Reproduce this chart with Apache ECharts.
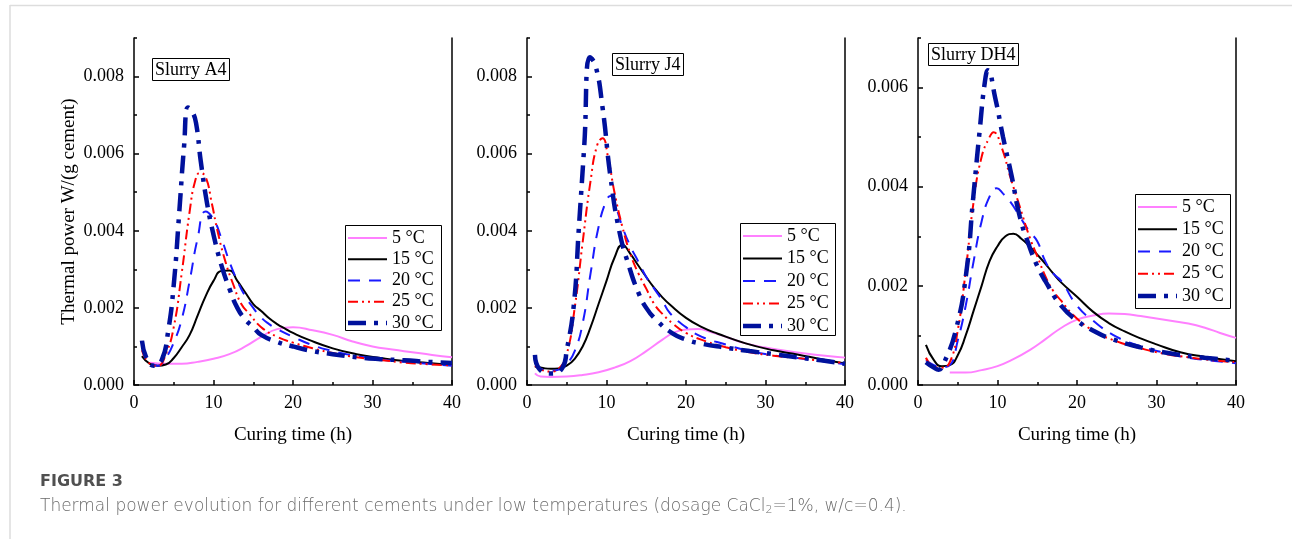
<!DOCTYPE html>
<html>
<head>
<meta charset="utf-8">
<script src="https://cdn.jsdelivr.net/npm/echarts@6/dist/echarts.min.js"></script>
<style>
  html, body { margin: 0; padding: 0; background: #fff; }
  #chart { width: 1292px; height: 539px; }
</style>
</head>
<body>
<div id="chart"></div>
<script>
// Curing temperatures (legend entries) and panel labels
const temps = ['5 °C', '15 °C', '20 °C', '25 °C', '30 °C'];
const panelNames = ['Slurry A4', 'Slurry J4', 'Slurry DH4'];
const yMaxes = [0.009, 0.009, 0.007];
const xTickValues = [0, 10, 20, 30, 40];

// Thermal power W/(g cement) vs curing time (h) — Slurry A4
const a4_5 = [[2,0.00058],[4,0.00055],[6,0.00055],[8,0.0006],[10,0.00068],[12,0.0008],[14,0.001],[16,0.00125],[18,0.00145],[20,0.0015],[22.5,0.00142],[25,0.0013],[27.5,0.00113],[30,0.001],[32.5,0.00092],[35,0.00085],[37.5,0.00078],[40,0.00072]];
const a4_15 = [[1,0.00075],[2,0.00055],[3,0.0005],[4,0.00053],[5,0.0007],[6,0.00098],[7,0.0013],[8,0.0018],[9,0.0023],[10,0.0027],[11,0.00296],[12,0.00297],[13,0.0027],[14,0.0024],[15,0.0021],[16,0.00192],[17,0.00173],[18,0.00158],[19,0.00146],[20,0.00135],[22,0.00117],[25,0.00095],[28,0.0008],[31,0.0007],[34,0.00062],[37,0.00057],[40,0.00052]];
const a4_20 = [[1,0.001],[2,0.0006],[3,0.0005],[4,0.0007],[5,0.0011],[6,0.0017],[7,0.0027],[8,0.0038],[9,0.0045],[10,0.0043],[11,0.0038],[12,0.0032],[13,0.0027],[14,0.0023],[15,0.002],[16,0.00175],[17,0.00158],[18,0.00145],[20,0.00125],[22.5,0.00103],[25,0.00088],[28,0.00075],[31,0.00066],[34,0.0006],[37,0.00055],[40,0.0005]];
const a4_25 = [[1,0.0009],[2,0.00055],[3,0.0005],[4,0.0008],[5,0.0015],[6,0.0029],[7,0.0045],[7.7,0.0053],[8.3,0.0055],[9,0.0054],[9.8,0.0047],[10.5,0.004],[11.5,0.0032],[12.5,0.0026],[13.5,0.0021],[14.5,0.00185],[16,0.0015],[18,0.00125],[20,0.0011],[22.5,0.00095],[25,0.00083],[28,0.00072],[31,0.00065],[34,0.00058],[37,0.00054],[40,0.00051]];
const a4_30 = [[1,0.00115],[1.6,0.00068],[2.5,0.0005],[3.5,0.00065],[4.3,0.0014],[5,0.0026],[5.7,0.0045],[6.3,0.0062],[6.8,0.0072],[7.3,0.0071],[7.8,0.0068],[8.4,0.0058],[9.2,0.0047],[10,0.0039],[11,0.0031],[12,0.0025],[13,0.002],[14,0.0017],[15,0.0015],[16,0.0013],[18,0.00112],[20,0.001],[22.5,0.00088],[25,0.0008],[28,0.00072],[31,0.00067],[34,0.00064],[37,0.0006],[40,0.00057]];

// Slurry J4
const j4_5 = [[1,0.0003],[1.7,0.00022],[3,0.00021],[5,0.00022],[7,0.00026],[9,0.00033],[11,0.00045],[13,0.00062],[15,0.00088],[17,0.00117],[18.5,0.00136],[20,0.00144],[21.5,0.00145],[23,0.00138],[25,0.00125],[27.5,0.00108],[30,0.00097],[32.5,0.00089],[35,0.00082],[37.5,0.00076],[40,0.00071]];
const j4_15 = [[1,0.00048],[2,0.00044],[3,0.00042],[4,0.00043],[5,0.0005],[6,0.00068],[7,0.001],[8,0.0015],[9,0.0021],[10,0.0027],[11,0.0033],[12,0.00364],[13,0.0034],[14,0.0031],[15,0.0028],[16,0.00252],[17,0.00228],[18,0.00208],[20,0.00174],[22,0.0015],[24,0.00133],[27.5,0.00108],[31,0.0009],[34,0.00079],[37,0.00067],[40,0.00056]];
const j4_20 = [[1,0.0006],[2,0.0004],[3,0.00037],[4,0.0004],[5,0.00055],[6,0.00088],[7,0.0016],[8,0.0029],[9,0.0041],[10,0.0048],[10.5,0.0049],[11.2,0.0046],[12,0.0041],[13,0.0036],[14,0.0032],[15,0.0028],[16,0.0025],[17,0.0022],[18,0.00186],[20,0.0015],[22,0.00125],[25,0.00105],[28,0.00088],[31,0.00077],[34,0.0007],[37,0.00062],[40,0.00054]];
const j4_25 = [[1,0.0005],[2,0.00038],[3,0.00035],[4,0.00042],[5,0.0008],[6,0.002],[7,0.0037],[8,0.0053],[8.8,0.0062],[9.5,0.0064],[10.2,0.0059],[11,0.005],[12,0.0041],[13,0.0034],[14,0.0029],[15,0.0025],[16,0.0021],[17,0.00185],[18.3,0.0016],[20,0.00135],[22,0.00117],[25,0.00098],[28,0.00085],[31,0.00076],[34,0.0007],[37,0.00063],[40,0.00057]];
const j4_30 = [[1,0.00078],[1.6,0.0004],[3,0.0003],[4.4,0.00043],[5,0.0009],[5.9,0.0021],[6.5,0.004],[7.2,0.0062],[7.9,0.0085],[8.6,0.0083],[9.5,0.0072],[10.5,0.0054],[11.6,0.004],[12.8,0.0031],[14,0.0024],[15,0.002],[16.2,0.0017],[18.3,0.00134],[20,0.00118],[22,0.00107],[25,0.00097],[28,0.00088],[31,0.0008],[34,0.00072],[37,0.00064],[40,0.00055]];

// Slurry DH4
const dh4_5 = [[4,0.00025],[6,0.00025],[8,0.0003],[10,0.00038],[12,0.00052],[14,0.0007],[16,0.00092],[18,0.00115],[20,0.00132],[22,0.0014],[24,0.00144],[26,0.00143],[28,0.00139],[30,0.00134],[32,0.00129],[34,0.00124],[36,0.00116],[38,0.00105],[40,0.00095]];
const dh4_15 = [[1,0.00081],[2,0.0005],[3,0.00038],[4,0.0004],[5,0.0006],[6,0.001],[7,0.0015],[8,0.002],[9,0.0025],[10,0.0028],[11,0.003],[12,0.00305],[13,0.00295],[14,0.0028],[15,0.00263],[16,0.00245],[17,0.00225],[18,0.00207],[20,0.00178],[22,0.00148],[24,0.00125],[26,0.00108],[28,0.00094],[30,0.00082],[33,0.00066],[36,0.00057],[40,0.00048]];
const dh4_20 = [[1,0.0005],[2,0.0004],[3,0.00036],[4,0.0004],[5,0.0009],[6,0.0016],[7,0.0025],[8,0.0033],[9,0.0038],[9.9,0.00397],[10.7,0.00386],[11.6,0.0037],[12.8,0.0034],[14,0.0031],[15,0.0029],[16,0.0025],[17,0.00225],[18,0.0021],[20,0.0016],[22,0.0013],[25,0.00097],[28,0.00078],[31,0.00065],[34,0.00055],[37,0.00049],[40,0.00044]];
const dh4_25 = [[1,0.00055],[2,0.00037],[3,0.00035],[4,0.00046],[5,0.0011],[6,0.0023],[7,0.0037],[8,0.0046],[9,0.005],[9.5,0.0051],[10.5,0.0048],[11.6,0.0042],[12.8,0.0036],[14,0.003],[15,0.0026],[16,0.0022],[17,0.0019],[18,0.0017],[19.6,0.0014],[22,0.0011],[25,0.00088],[28,0.00074],[31,0.00063],[34,0.00056],[37,0.0005],[40,0.00046]];
const dh4_30 = [[1,0.00046],[2,0.00035],[2.6,0.00031],[3.2,0.00042],[4.8,0.00113],[6.1,0.0023],[6.9,0.0037],[7.8,0.0052],[8.4,0.0061],[8.8,0.00635],[9.7,0.0058],[10.7,0.005],[11.8,0.0042],[12.8,0.0034],[14,0.0028],[15,0.0024],[16,0.0021],[18,0.0016],[20,0.0013],[22,0.0011],[24,0.00095],[28,0.00076],[32,0.00063],[36,0.00055],[40,0.00049]];

const panelSeries = [
  [a4_5, a4_15, a4_20, a4_25, a4_30],
  [j4_5, j4_15, j4_20, j4_25, j4_30],
  [dh4_5, dh4_15, dh4_20, dh4_25, dh4_30]
];

// ---- styling / layout ----
const serif = '"Liberation Serif", "Times New Roman", serif';
const gridBoxes = [
  { left: 134, top: 38, width: 318, height: 347 },
  { left: 527, top: 38, width: 318, height: 347 },
  { left: 918, top: 38, width: 318, height: 347 }
];
// legend boxes: x, y, width, height, row spacing
const legendBoxes = [
  { x: 345, y: 225, w: 96, h: 105, step: 21.25 },
  { x: 740, y: 223, w: 95, h: 112, step: 22.5 },
  { x: 1135, y: 194, w: 95, h: 114, step: 22.25 }
];
const labelPos = [
  { left: 152, top: 58 },
  { left: 612, top: 53 },
  { left: 928, top: 43 }
];
const lineStyles = [
  { color: '#ff80ff', width: 2, dash: null },
  { color: '#000000', width: 2, dash: null },
  { color: '#1a1aff', width: 2, dash: [12, 9] },
  { color: '#ff0000', width: 2, dash: [10, 4, 2, 4, 2, 4] },
  { color: '#00119c', width: 4.5, dash: [18, 8, 4, 8] }
];

const axisColor = '#000';
const grid = [], xAxis = [], yAxis = [], series = [], title = [], graphic = [];

gridBoxes.forEach((g, i) => {
  grid.push(Object.assign({ containLabel: false }, g));

  const xMain = xAxis.length;
  xAxis.push({
    type: 'value', gridIndex: i, position: 'bottom',
    min: xTickValues[0], max: xTickValues[xTickValues.length - 1], interval: 10,
    axisLine: { lineStyle: { color: axisColor, width: 1.5 } },
    axisTick: { inside: true, length: 5, lineStyle: { color: axisColor, width: 1.5 } },
    minorTick: { show: true, splitNumber: 2, length: 3, lineStyle: { color: axisColor, width: 1.5 } },
    splitLine: { show: false },
    axisLabel: { fontFamily: serif, fontSize: 18, color: '#000', margin: 9 },
    name: 'Curing time (h)', nameLocation: 'middle', nameGap: 41,
    nameTextStyle: { fontFamily: serif, fontSize: 19, color: '#000' }
  });
  // top frame line
  xAxis.push({
    type: 'value', gridIndex: i, position: 'top', min: 0, max: 40,
    axisLine: { lineStyle: { color: '#555', width: 1.5 } },
    axisTick: { show: false }, axisLabel: { show: false }, splitLine: { show: false }
  });

  const yMain = yAxis.length;
  yAxis.push({
    type: 'value', gridIndex: i, position: 'left',
    min: 0, max: yMaxes[i], interval: 0.002,
    axisLine: { lineStyle: { color: axisColor, width: 1.5 } },
    axisTick: { inside: true, length: 5, lineStyle: { color: axisColor, width: 1.5 } },
    splitLine: { show: false },
    axisLabel: {
      fontFamily: serif, fontSize: 18, color: '#000', margin: 10, showMaxLabel: false,
      formatter: v => v.toFixed(3)
    },
    name: i === 0 ? 'Thermal power W/(g cement)' : '',
    nameLocation: 'middle', nameGap: 55,
    nameTextStyle: { fontFamily: serif, fontSize: 19, color: '#000' }
  });
  // minor ticks every 0.001
  yAxis.push({
    type: 'value', gridIndex: i, position: 'left',
    min: 0, max: yMaxes[i], interval: 0.001,
    axisLine: { show: false },
    axisTick: { inside: true, length: 3, lineStyle: { color: axisColor, width: 1.5 } },
    axisLabel: { show: false }, splitLine: { show: false }
  });
  // right frame line
  yAxis.push({
    type: 'value', gridIndex: i, position: 'right', min: 0, max: yMaxes[i],
    axisLine: { lineStyle: { color: axisColor, width: 1.5 } },
    axisTick: { show: false }, axisLabel: { show: false }, splitLine: { show: false }
  });

  panelSeries[i].forEach((data, k) => {
    const st = lineStyles[k];
    series.push({
      type: 'line', name: temps[k], xAxisIndex: xMain, yAxisIndex: yMain,
      data: data, symbol: 'none', smooth: 0.5,
      lineStyle: { color: st.color, width: st.width, type: st.dash || 'solid', cap: 'butt' },
      itemStyle: { color: st.color },
      z: 2 + k, animation: false
    });
  });

  // legend box with line samples
  const lb = legendBoxes[i];
  const children = [{
    type: 'rect', shape: { x: lb.x + 0.5, y: lb.y + 0.5, width: lb.w, height: lb.h },
    style: { fill: '#fff', stroke: '#000', lineWidth: 1 }
  }];
  temps.forEach((name, k) => {
    const st = lineStyles[k];
    const cy = lb.y + 13 + k * lb.step;
    children.push({
      type: 'line', shape: { x1: lb.x + 3, y1: cy, x2: lb.x + 42, y2: cy },
      style: { stroke: st.color, lineWidth: st.width, lineDash: st.dash, lineCap: 'butt' }
    });
    children.push({
      type: 'text', x: lb.x + 47, y: cy,
      style: { text: name, font: '18px ' + serif, fill: '#000', verticalAlign: 'middle', align: 'left' }
    });
  });
  graphic.push({ type: 'group', z: 100, children });

  const tp = labelPos[i];
  title.push({
    text: panelNames[i], left: tp.left, top: tp.top,
    borderColor: '#000', borderWidth: 1, padding: [3, 3, 2, 3],
    textStyle: { fontFamily: serif, fontSize: 18, fontWeight: 'normal', color: '#000' }
  });
});

graphic.push(
  { type: 'line', shape: { x1: 10, y1: 5.5, x2: 1292, y2: 5.5 }, style: { stroke: '#dddddd', lineWidth: 1.5 } },
  { type: 'line', shape: { x1: 10, y1: 5, x2: 10, y2: 539 }, style: { stroke: '#dddddd', lineWidth: 1.5 } },
  { type: 'text', left: 40, top: 474,
    style: { text: 'FIGURE 3', font: 'bold 16px "DejaVu Sans", sans-serif', fill: '#505050' } },
  { type: 'text', left: 40, top: 498,
    style: {
      text: '{t|Thermal power evolution for different cements under low temperatures (dosage CaCl}{s|2}{t|=1%, w/c=0.4).}',
      rich: {
        t: { fontFamily: '"DejaVu Sans", sans-serif', fontWeight: 300, fontSize: 17, fill: '#6a6a6a' },
        s: { fontFamily: '"DejaVu Sans", sans-serif', fontWeight: 300, fontSize: 11, fill: '#6a6a6a', padding: [8, 0, 0, 0] }
      }
    } }
);

const chart = echarts.init(document.getElementById('chart'), null, { renderer: 'canvas' });
chart.setOption({
  animation: false,
  backgroundColor: '#fff',
  textStyle: { fontFamily: serif },
  grid, xAxis, yAxis, series, title, graphic
});
</script>
</body>
</html>
